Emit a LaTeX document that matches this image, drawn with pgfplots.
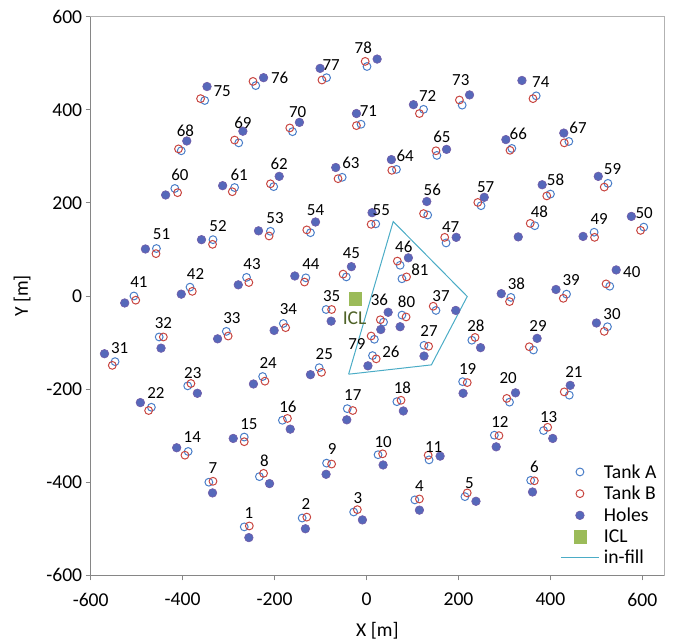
\documentclass[border=0pt]{standalone}
\usepackage{fontspec}
\setmainfont{Carlito}
\usepackage{pgfplots}
\usepackage{pgfplotstable}
\pgfplotsset{compat=1.18}
\definecolor{tankA}{RGB}{74,126,200}
\definecolor{tankB}{RGB}{200,70,65}
\definecolor{holeF}{RGB}{86,104,186}
\definecolor{holeD}{RGB}{115,92,168}
\definecolor{iclG}{RGB}{155,187,89}
\definecolor{iclT}{RGB}{79,98,40}
\definecolor{infill}{RGB}{75,172,198}
\definecolor{axG}{RGB}{134,134,134}
\newcommand{\lab}{\fontsize{17}{17}\selectfont}
\newcommand{\bigf}{\fontsize{19.7}{21.6}\selectfont}

% No. | Tank A | Tank B | Hole | label
\pgfplotstableread{
n  ax   ay    bx   by    hx   hy    lx   ly
1  -266 -496  -255 -494  -256 -519  -256 -466
2  -140 -477  -130 -475  -133 -500  -132 -446
3  -28  -464  -20  -459  -9   -481  -19  -434
4  105  -438  115  -436  115  -460  115  -408
5  214  -431  219  -423  238  -441  224  -402
6  357  -396  365  -397  361  -421  365  -366
7  -343 -400  -334 -398  -335 -423  -334 -369
8  -233 -388  -224 -381  -211 -403  -222 -354
9  -87  -359  -76  -361  -88  -383  -75  -329
10 25   -341  35   -339  36   -363  36   -313
11 136  -352  134  -342  160  -344  146  -324
12 278  -299  288  -300  282  -324  290  -270
13 385  -289  394  -282  405  -306  396  -259
14 -388 -334  -395 -342  -413 -326  -379 -304
15 -266 -303  -266 -313  -290 -306  -256 -275
16 -183 -267  -172 -263  -166 -286  -171 -239
17 -42  -242  -30  -246  -43  -266  -30  -213
18 66   -227  75   -224  80   -247  78   -198
19 209  -184  219  -186  210  -209  220  -156
20 311  -228  305  -220  324  -208  308  -176
21 441  -213  430  -206  443  -192  451  -164
22 -468 -239  -474 -246  -492 -229  -458 -209
23 -389 -193  -382 -188  -368 -209  -378 -165
24 -226 -173  -221 -183  -246 -189  -214 -145
25 -103 -154  -98  -164  -122 -169  -92  -125
26 13   -128  21   -135  3    -150  53   -119
27 125  -106  135  -108  125  -129  136  -76
28 229  -95   236  -89   248  -111  238  -65
29 363  -116  354  -109  371  -91   373  -64
30 524  -66   517  -76   500  -58   534  -39
31 -547 -141  -553 -149  -570 -124  -537 -111
32 -451 -88   -442 -88   -447 -112  -442 -59
33 -305 -76   -301 -86   -324 -92   -293 -48
34 -181 -59   -176 -68   -201 -74   -170 -29
35 -88  -29   -76  -29   -77  -54   -76  -1
36 37   -56   30   -51   47   -35   28   -9
37 151  -31   145  -22   194  -31   162  -1
38 314  -3    311  -12   293  5     326  27
39 435  4     428  -5    412  14    445  34
40 529  21    521  26    543  56    577  51
41 -506 0     -502 -9    -526 -15   -495 29
42 -384 19    -379 10    -403 4     -372 48
43 -261 40    -256 29    -279 24    -249 69
44 -132 39    -135 30    -156 43    -121 68
45 -44  41    -51  47    -33  63    -33  93
46 73   66    67   75    91   82    81   105
47 173  114   170  126   195  126   183  149
48 366  151   356  156   330  127   376  180
49 495  137   496  126   471  128   506  166
50 603  148   596  141   576  171   604  179
51 -457 102   -458 91    -481 101   -446 132
52 -334 121   -335 111   -359 121   -323 150
53 -209 139   -212 129   -235 140   -199 168
54 -122 136   -130 142   -111 159   -111 184
55 20   155   10   154   12   179   32   184
56 133  174   124  177   131  203   143  227
57 249  194   242  201   256  212   259  233
58 400  219   392  215   382  239   411  249
59 525  242   517  234   504  257   535  272
60 -417 231   -411 222   -437 217   -406 261
61 -287 233   -292 224   -313 237   -277 261
62 -202 235   -209 241   -190 257   -190 283
63 -53  255   -62  252   -67  276   -34  286
64 65   272   55   270   54   293   84   302
65 153  302   151  312   174  315   164  342
66 316  317   312  313   303  336   330  348
67 440  332   430  329   429  350   460  362
68 -403 312   -409 316   -391 333   -394 355
69 -278 329   -287 335   -269 354   -269 373
70 -161 353   -167 361   -146 373   -150 396
71 -12  369   -22  366   -22  392   4    398
72 124  401   115  392   102  411   133  430
73 208  410   202  421   224  432   205  464
74 369  430   362  424   338  463   379  460
75 -352 420   -361 424   -347 450   -314 441
76 -241 452   -247 461   -224 469   -189 469
77 -87  469   -97  464   -101 489   -77  497
78 1    493   -3   504   23   509   -7   533
79 17   -93   10   -86   31   -72   -21  -104
80 77   -41   86   -45   73   -66   87   -12
81 77   37    87   41    nan  nan   116  57
}\groups

\begin{document}
\begin{tikzpicture}
\useasboundingbox (-90.7bp,-67.7bp) rectangle (587.3bp,575.3bp);
\begin{axis}[
  scale only axis, width=573.3bp, height=558.6bp,
  xmin=-600, xmax=647, ymin=-600, ymax=600,
  axis line style={draw=black!30, line width=0.8bp},
  xtick={-600,-400,...,600}, xticklabels={-600,-400,-200,0,200,400,600},
  ytick={-600,-400,...,600}, yticklabels={-600,-400,-200,0,200,400,600},
  tick pos=left, tick align=outside, major tick length=5bp,
  tick style={axG, line width=1bp},
  ticklabel style={font=\bigf},
  xticklabel style={yshift=-9bp},
  xlabel={X [m]}, ylabel={Y [m]},
  label style={font=\bigf},
  xlabel style={yshift=-9bp},
  ylabel style={yshift=9bp},
  legend style={draw=none, fill=none, at={(0.819,0.2025)}, anchor=north west,
    font=\bigf, row sep=2.6bp, inner sep=0bp,
    nodes={inner xsep=4.5bp}},
  legend cell align=left,
  legend image code/.code={\draw[mark repeat=2,mark phase=2,#1] plot coordinates {(0bp,0bp)(19bp,0bp)(38bp,0bp)};},
  clip=false,
]
\draw[axG, line width=1.6bp] (rel axis cs:0,1) -- (rel axis cs:0,0) -- (rel axis cs:1,0);
\addplot[only marks, mark=o, mark size=3.9bp, mark options={draw=tankA, line width=1bp}] table[x=ax, y=ay] {\groups};
\addlegendentry{Tank A}
\addplot[only marks, mark=o, mark size=3.9bp, mark options={draw=tankB, line width=1bp}] table[x=bx, y=by] {\groups};
\addlegendentry{Tank B}
\addplot[only marks, mark=*, mark size=4.3bp, mark options={draw=holeD, fill=holeF, line width=0.6bp}, unbounded coords=discard] table[x=hx, y=hy] {\groups};
\addlegendentry{Holes}
\addplot[only marks, mark=square*, mark size=6.2bp, mark options={draw=iclG, fill=iclG}] coordinates {(-25,-6)};
\addlegendentry{ICL}
\addplot[infill, line width=1bp, mark=none] coordinates {(-39,-168) (58,160) (219,-1) (141,-148) (-39,-168)};
\addlegendentry{in-fill}
\addplot[draw=none, mark=none, forget plot, nodes near coords, point meta=explicit symbolic,
  every node near coord/.style={anchor=center, inner sep=0pt, font=\lab, text=black}]
  table[x=lx, y=ly, meta=n] {\groups};
\addplot[draw=none, mark=none, forget plot, nodes near coords, point meta=explicit symbolic,
  every node near coord/.style={anchor=center, inner sep=0pt, font=\fontsize{19.7}{20}\selectfont, text=iclT}]
  table[x=x, y=y, meta=t] {
x y t
-26 -48 ICL
};
\end{axis}
\end{tikzpicture}
\end{document}
